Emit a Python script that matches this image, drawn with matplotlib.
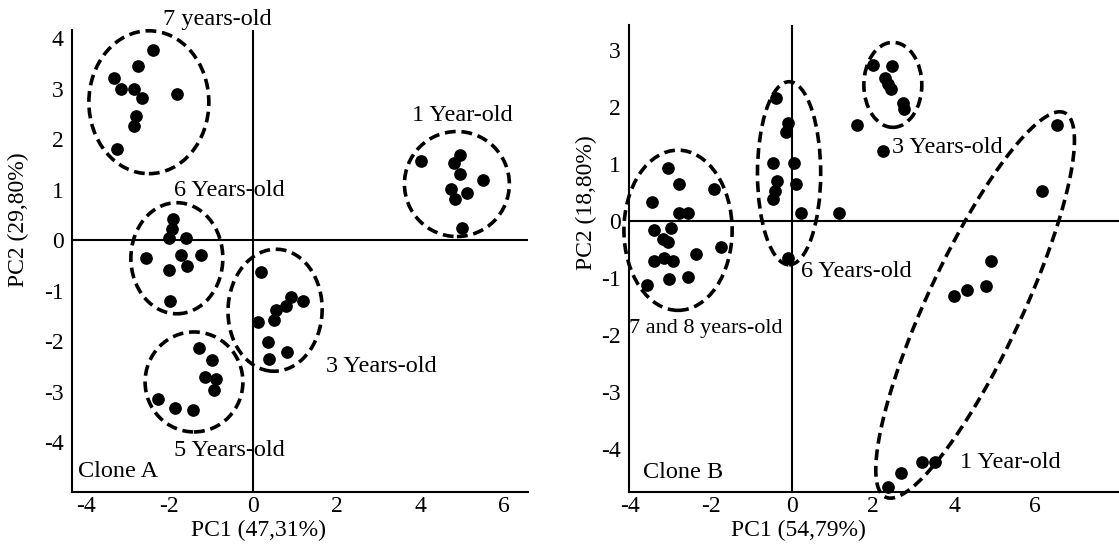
import numpy as np
import matplotlib.pyplot as plt
from matplotlib.patches import Ellipse

plt.rcParams['font.family'] = ['Liberation Serif', 'DejaVu Serif']
plt.rcParams['axes.unicode_minus'] = False

# ---- Clone A scores (PC1, PC2) ----
a_7yr_x = [-2.39, -2.75, -3.33, -3.16, -2.85, -2.66, -1.82, -2.80, -2.85, -3.25]
a_7yr_y = [3.76, 3.45, 3.21, 2.99, 2.99, 2.81, 2.89, 2.46, 2.26, 1.80]
a_6yr_x = [-1.91, -1.94, -2.01, -1.60, -2.56, -1.72, -1.24, -1.58, -2.01, -1.99]
a_6yr_y = [0.42, 0.22, 0.04, 0.04, -0.36, -0.30, -0.30, -0.51, -0.59, -1.21]
a_3yr_x = [0.19, 0.91, 0.79, 1.20, 0.55, 0.12, 0.50, 0.36, 0.81, 0.38]
a_3yr_y = [-0.63, -1.13, -1.31, -1.21, -1.39, -1.62, -1.58, -2.02, -2.22, -2.36]
a_5yr_x = [-1.29, -0.98, -1.15, -0.89, -0.93, -2.27, -1.87, -1.44]
a_5yr_y = [-2.14, -2.38, -2.71, -2.75, -2.97, -3.15, -3.33, -3.37]
a_1yr_x = [4.02, 4.95, 4.81, 4.95, 5.50, 4.74, 5.12, 4.83, 5.00]
a_1yr_y = [1.56, 1.68, 1.52, 1.31, 1.19, 1.01, 0.93, 0.81, 0.24]

# ---- Clone B scores (PC1, PC2) ----
b_78yr_x = [-3.06, -2.79, -1.93, -3.46, -2.79, -2.57, -3.41, -2.99, -3.19,
            -3.06, -1.75, -2.37, -3.41, -3.16, -2.94, -3.04, -2.57, -3.58]
b_78yr_y = [0.93, 0.65, 0.56, 0.33, 0.14, 0.14, -0.16, -0.12, -0.32,
            -0.37, -0.46, -0.58, -0.70, -0.65, -0.70, -1.02, -0.98, -1.12]
b_6yr_x = [-0.40, -0.10, -0.15, -0.47, 0.05, -0.37, 0.10, -0.42, -0.47, 0.22, -0.10]
b_6yr_y = [2.16, 1.72, 1.56, 1.02, 1.02, 0.70, 0.65, 0.53, 0.39, 0.14, -0.65]
b_other_x = [1.16, 1.60, 2.25]
b_other_y = [0.14, 1.68, 1.23]
b_3yr_x = [2.00, 2.47, 2.30, 2.37, 2.44, 2.74, 2.77]
b_3yr_y = [2.74, 2.72, 2.51, 2.40, 2.32, 2.07, 1.96]
b_1yr_x = [6.54, 6.17, 4.91, 4.79, 4.32, 4.00, 3.21, 3.53, 2.69, 2.37]
b_1yr_y = [1.68, 0.53, -0.70, -1.14, -1.21, -1.32, -4.23, -4.23, -4.42, -4.67]

ticks_x = [-4, -2, 0, 2, 4, 6]
ticks_a_y = [-4, -3, -2, -1, 0, 1, 2, 3, 4]
ticks_b_y = [-4, -3, -2, -1, 0, 1, 2, 3]

dash = (0, (3, 1.6))
fs = 17.5
fs_tick = 17
fs_lab = 17


def style(ax, xlim, ylim, yticks):
    ax.set_xlim(*xlim)
    ax.set_ylim(*ylim)
    ax.set_xticks(ticks_x)
    ax.set_yticks(yticks)
    ax.tick_params(length=0, labelsize=fs_tick)
    ax.tick_params(axis='x', pad=3)
    ax.tick_params(axis='y', pad=6)
    for s in ['top', 'right']:
        ax.spines[s].set_visible(False)
    for s in ['left', 'bottom']:
        ax.spines[s].set_linewidth(1.5)
    ax.axhline(0, color='black', lw=1.5, zorder=1)
    ax.axvline(0, color='black', lw=1.5, zorder=1)


def ring(ax, cx, cy, w, h, angle=0):
    ax.add_patch(Ellipse((cx, cy), w, h, angle=angle, fill=False, ec='black',
                         lw=2.6, ls=dash, clip_on=False, zorder=3))


def dots(ax, xs, ys):
    ax.scatter(xs, ys, s=66, color='black', zorder=4, clip_on=False)


fig = plt.figure(figsize=(11.19, 5.48), dpi=100)
axA = fig.add_axes([0.0643, 0.1022, 0.4075, 0.843])
axB = fig.add_axes([0.5621, 0.1022, 0.4379, 0.8522])

# Clone A
style(axA, (-4.33, 6.58), (-4.99, 4.16), ticks_a_y)
for xs, ys in [(a_7yr_x, a_7yr_y), (a_6yr_x, a_6yr_y), (a_3yr_x, a_3yr_y),
               (a_5yr_x, a_5yr_y), (a_1yr_x, a_1yr_y)]:
    dots(axA, xs, ys)
ring(axA, -2.49, 2.73, 2.87, 2.83)
ring(axA, -1.82, -0.36, 2.20, 2.20)
ring(axA, 0.53, -1.39, 2.25, 2.42, angle=-8)
ring(axA, -1.41, -2.81, 2.34, 1.98)
ring(axA, 4.88, 1.11, 2.51, 2.08)
txt = dict(fontsize=fs, ha='center', va='center', clip_on=False)
axA.text(-0.86, 4.36, '7 years-old', **txt)
axA.text(-0.57, 0.99, '6 Years-old', **txt)
axA.text(3.06, -2.50, '3 Years-old', **txt)
axA.text(-0.57, -4.16, '5 Years-old', **txt)
axA.text(5.02, 2.46, '1 Year-old', **txt)
axA.text(-4.19, -4.59, 'Clone A', fontsize=fs, ha='left', va='center')
axA.set_xlabel('PC1 (47,31%)', fontsize=fs_lab, va='center')
axA.set_ylabel('PC2 (29,80%)', fontsize=fs_lab)
axA.xaxis.set_label_coords(0.41, -0.083)
axA.yaxis.set_label_coords(-0.095, 0.59)

# Clone B
style(axB, (-4.02, 8.07), (-4.75, 3.44), ticks_b_y)
for xs, ys in [(b_78yr_x, b_78yr_y), (b_6yr_x, b_6yr_y), (b_other_x, b_other_y),
               (b_3yr_x, b_3yr_y), (b_1yr_x, b_1yr_y)]:
    dots(axB, xs, ys)
ring(axB, -2.81, -0.16, 2.67, 2.81)
ring(axB, -0.07, 0.84, 1.56, 3.21)
ring(axB, 2.49, 2.39, 1.43, 1.49)
# tilted ring around the 1 year-old samples
t = np.linspace(0, 2 * np.pi, 300)
cx, cy = 4.52, -1.47
ex = cx + 2.21 * np.cos(t) - 1.06 * np.sin(t)
ey = cy + 3.37 * np.cos(t) + 0.35 * np.sin(t)
axB.plot(ex, ey, color='black', lw=2.6, ls=dash, clip_on=False, zorder=3)
axB.text(3.83, 1.30, '3 Years-old', **txt)
axB.text(0.22, -0.88, '6 Years-old', fontsize=fs, ha='left', va='center')
axB.text(-2.12, -1.88, '7 and 8 years-old', fontsize=16, ha='center', va='center')
axB.text(5.38, -4.23, '1 Year-old', **txt)
axB.text(-3.68, -4.40, 'Clone B', fontsize=fs, ha='left', va='center')
axB.set_xlabel('PC1 (54,79%)', fontsize=fs_lab, va='center')
axB.set_ylabel('PC2 (18,80%)', fontsize=fs_lab)
axB.xaxis.set_label_coords(0.345, -0.082)
axB.yaxis.set_label_coords(-0.065, 0.62)

fig.savefig('out.png', dpi=100)
